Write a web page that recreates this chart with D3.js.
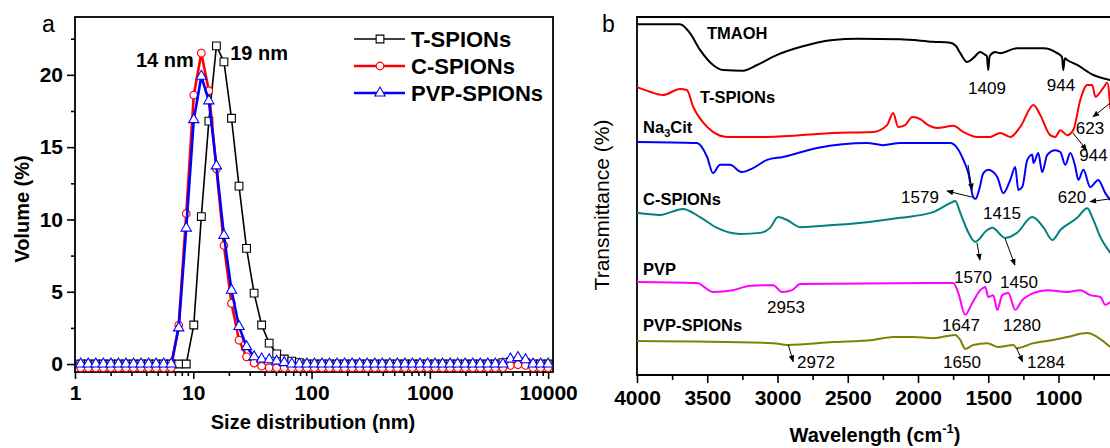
<!DOCTYPE html>
<html>
<head>
<meta charset="utf-8">
<script src="https://cdn.jsdelivr.net/npm/d3@7"></script>
<style>
  body { margin: 0; background: #fff; }
  svg { display: block; font-family: "Liberation Sans", Arial, sans-serif; }
</style>
</head>
<body>
<svg id="chart" width="1110" height="448"></svg>
<script>
// ---------- panel a : DLS size distribution ----------
// size bins (nm)
var sizes = [1.117, 1.294, 1.499, 1.736, 2.01, 2.328, 2.696, 3.122, 3.615, 4.187,
  4.849, 5.615, 6.503, 7.531, 8.721, 10.1, 11.7, 13.54, 15.69, 18.17,
  21.04, 24.36, 28.21, 32.67, 37.84, 43.82, 50.75, 58.77, 68.06, 78.82,
  91.28, 105.7, 122.4, 141.8, 164.2, 190.1, 220.2, 255.0, 295.3, 342.0,
  396.1, 458.7, 531.2, 615.1, 712.4, 825.0, 955.4, 1106, 1281, 1484,
  1718, 1990, 2305, 2669, 3091, 3580, 4145, 4801, 5560, 6439,
  7456, 8635, 10000];

// volume (%)
var tSpions = [0, 0, 0, 0, 0, 0, 0, 0, 0, 0,
  0, 0, 0, 0, 0, 2.7, 10.2, 16.8, 22.0, 20.9,
  17.0, 12.3, 8.0, 4.9, 2.7, 1.45, 0.7, 0.35, 0.2, 0.1,
  0, 0, 0, 0, 0, 0, 0, 0, 0, 0,
  0, 0, 0, 0, 0, 0, 0, 0, 0, 0,
  0, 0, 0, 0, 0, 0, 0.1, 0.15, 0.15, 0.1,
  0, 0, 0];
var cSpions = [-0.25, -0.25, -0.25, -0.25, -0.25, -0.25, -0.25, -0.25, -0.25, -0.25,
  -0.25, -0.25, -0.25, 2.7, 10.4, 18.6, 21.5, 18.9, 13.5, 8.2,
  4.2, 1.65, 0.5, 0.07, -0.15, -0.25, -0.25, -0.25, -0.25, -0.25,
  -0.25, -0.25, -0.25, -0.25, -0.25, -0.25, -0.25, -0.25, -0.25, -0.25,
  -0.25, -0.25, -0.25, -0.25, -0.25, -0.25, -0.25, -0.25, -0.25, -0.25,
  -0.25, -0.25, -0.25, -0.25, -0.25, -0.25, -0.25, -0.1, -0.05, -0.1,
  -0.25, -0.25, -0.25];
var pvpSpions = [0, 0, 0, 0, 0, 0, 0, 0, 0, 0,
  0, 0, 0, 2.5, 9.4, 16.9, 19.9, 18.2, 13.7, 8.9,
  5.1, 2.6, 1.2, 0.5, 0.35, 0.3, 0.2, 0.1, 0, 0,
  0, 0, 0, 0, 0, 0, 0, 0, 0, 0,
  0, 0, 0, 0, 0, 0, 0, 0, 0, 0,
  0, 0, 0, 0, 0, 0, 0, 0.35, 0.45, 0.3,
  0, 0, 0];

var sizeTicks = [1, 10, 100, 1000, 10000];
var volumeTicks = [0, 5, 10, 15, 20];

// ---------- panel b : FTIR spectra (wavenumber, transmittance a.u.) ----------
var tmaohIR = [[4000,98.0],[3694,98.0],[3623,95.5],[3551,90.8],[3459,86.6],[3387,85.2],[3245,85.0],
  [3145,86.6],[3003,89.4],[2839,91.6],[2604,93.6],[2433,93.9],[2127,93.8],[1892,93.1],[1771,92.8],
  [1730,91.9],[1699,89.9],[1650,87.4],[1607,88.5],[1557,90.2],[1521,89.4],[1510,89.1],[1500,85.2],
  [1490,89.1],[1450,90.2],[1415,89.9],[1296,91.3],[1108,91.3],[1009,89.9],[975,88.8],[966,85.2],
  [955,88.5],[938,88.0],[867,86.6],[752,83.8],[631,82.4]];
var tSpionsIR = [[4000,80.4],[3907,79.1],[3815,78.2],[3694,79.9],[3645,79.6],[3600,74.9],[3527,70.4],
  [3459,67.9],[3359,66.5],[3074,66.5],[2604,67.6],[2319,67.9],[2220,69.8],[2177,73.2],[2141,69.3],
  [2091,69.8],[2041,72.1],[1984,71.5],[1927,69.8],[1865,69.0],[1749,69.6],[1677,67.9],[1579,66.5],
  [1485,66.5],[1415,67.6],[1343,66.5],[1272,69.3],[1178,75.4],[1130,72.6],[1059,67.0],[1023,66.5],
  [987,68.4],[938,67.0],[895,68.4],[845,76.8],[795,81.0],[760,81.0],[738,77.7],[681,80.2],
  [653,81.6],[631,74.3]];
var na3citIR = [[4000,65.1],[3573,64.8],[3501,60.9],[3459,56.4],[3409,58.7],[3338,58.7],[3255,56.7],
  [3174,57.8],[3074,60.1],[2960,60.9],[2718,63.4],[2362,64.8],[2248,64.2],[2127,64.8],[1771,64.8],
  [1721,63.4],[1677,60.1],[1642,56.4],[1607,49.7],[1590,49.2],[1565,51.7],[1535,56.4],[1500,57.3],
  [1436,55.3],[1393,50.8],[1343,54.5],[1308,58.1],[1286,51.7],[1258,52.5],[1222,60.1],[1187,61.5],
  [1178,59.2],[1144,62.0],[1116,56.7],[1080,61.5],[1023,62.8],[987,62.3],[952,58.7],[916,62.0],
  [880,58.1],[859,54.5],[823,57.3],[774,52.5],[717,54.5],[667,50.8],[631,48.9]];
var cSpionsIR = [[4000,45.3],[3836,44.7],[3672,46.4],[3551,44.1],[3430,41.1],[3266,39.4],[3124,39.7],
  [3053,41.1],[2996,44.1],[2932,43.3],[2839,41.3],[2604,41.9],[2362,42.7],[2127,43.9],[1892,45.5],
  [1771,48.0],[1735,48.6],[1699,45.3],[1650,40.5],[1593,37.2],[1507,40.5],[1472,41.1],[1379,38.3],
  [1296,39.7],[1187,44.1],[1108,41.3],[1044,37.7],[987,40.5],[867,43.9],[795,46.6],[760,44.1],
  [702,38.5],[631,34.1]];
var pvpIR = [[4000,26.0],[3573,25.7],[3459,23.2],[3316,23.7],[3195,24.9],[3031,25.1],[2968,23.2],
  [2896,23.7],[2839,25.4],[1749,25.7],[1713,22.9],[1664,16.8],[1614,20.1],[1557,23.7],[1521,24.6],
  [1500,21.8],[1464,22.3],[1436,18.2],[1400,22.3],[1357,22.9],[1308,18.2],[1258,20.9],[1178,22.9],
  [1080,23.7],[938,23.2],[845,23.7],[774,22.3],[702,21.8],[667,19.6],[631,20.4]];
var pvpSpionsIR = [[4000,9.5],[3031,8.9],[2932,8.4],[2604,9.2],[2319,9.8],[2177,10.6],[2034,10.6],
  [1892,10.3],[1735,11.2],[1699,9.8],[1664,7.3],[1607,8.4],[1507,8.9],[1429,7.8],[1322,8.4],
  [1296,7.5],[1178,8.9],[1037,9.8],[938,10.6],[795,11.7],[724,10.6],[631,7.8]];

var waveTicks = [4000, 3500, 3000, 2500, 2000, 1500, 1000];
var waveMinor = [3750, 3250, 2750, 2250, 1750, 1250, 750];

// sample names: [text, wavenumber, value]
var sampleNames = [["TMAOH", 3502, 93.9], ["T-SPIONs", 3552, 76.0], ["Na3Cit", 3957, 67.6],
  ["C-SPIONs", 3957, 47.5], ["PVP", 3957, 27.9], ["PVP-SPIONs", 3957, 12.3]];
// peak labels: [text, wavenumber, value, anchor]
var peakLabels = [["1409", 1509, 78.5, "middle"], ["944", 982, 79.3, "middle"], ["623", 776, 67.3, "middle"],
  ["944", 650, 59.8, "end"], ["1579", 1986, 48.0, "middle"], ["620", 904, 48.0, "middle"],
  ["1415", 1402, 43.6, "middle"], ["1570", 1609, 25.7, "middle"], ["1450", 1281, 24.3, "middle"],
  ["2953", 2940, 17.3, "middle"], ["1647", 1694, 12.4, "middle"], ["1280", 1260, 12.4, "middle"],
  ["2972", 2726, 2.0, "middle"], ["1650", 1687, 2.0, "middle"], ["1284", 1089, 2.0, "middle"]];
// arrows: [w1, v1, w2, v2] head at second point
var arrows = [[631, 76.0, 755, 72.1], [897, 67.6, 800, 62.8], [1644, 58.7, 1616, 51.7],
  [1616, 49.7, 1794, 51.4], [634, 49.2, 776, 48.4], [1580, 36.9, 1559, 32.1],
  [1381, 38.2, 1310, 30.7], [2923, 8.4, 2888, 3.7], [1298, 7.5, 1255, 3.7]];

var svg = d3.select("#chart");

svg.append("defs").append("marker")
  .attr("id", "head")
  .attr("viewBox", "0 0 10 10")
  .attr("refX", 9).attr("refY", 5)
  .attr("markerWidth", 7).attr("markerHeight", 7)
  .attr("orient", "auto")
  .append("path")
  .attr("d", "M0,1 L10,5 L0,9 Z")
  .attr("fill", "#000");

svg.select("defs").append("clipPath").attr("id", "clipA")
  .append("rect").attr("x", 75).attr("y", 17).attr("width", 478).attr("height", 355);

// ================= panel a =================
var xA = d3.scaleLog().domain([1, 11000]).range([75, 553]);
var yA = d3.scaleLinear().domain([-0.55, 24]).range([372, 17]);

var minorA = [];
[1, 10, 100, 1000].forEach(function (dec) {
  for (var k = 2; k <= 9; k++) minorA.push(dec * k);
});

svg.append("g").attr("transform", "translate(0,372)")
  .call(d3.axisBottom(xA).tickValues(sizeTicks).tickFormat(d3.format("d"))
    .tickSize(7).tickPadding(6));
svg.append("g").attr("transform", "translate(0,372)")
  .call(d3.axisBottom(xA).tickValues(minorA).tickFormat("").tickSize(4));

svg.append("g").attr("transform", "translate(75,0)")
  .call(d3.axisLeft(yA).tickValues(volumeTicks).tickSize(8).tickPadding(4));
svg.append("g").attr("transform", "translate(75,0)")
  .call(d3.axisLeft(yA).tickValues([2.5, 7.5, 12.5, 17.5, 22.5]).tickFormat("").tickSize(4));

svg.append("rect")
  .attr("x", 75).attr("y", 17).attr("width", 478).attr("height", 355)
  .attr("fill", "none").attr("stroke", "#000").attr("stroke-width", 1.8);

var seriesA = [
  { name: "T-SPIONs", values: tSpions, color: "#000000", sym: d3.symbolSquare, size: 60, lw: 1.6 },
  { name: "C-SPIONs", values: cSpions, color: "#ff0000", sym: d3.symbolCircle, size: 46, lw: 2.6 },
  { name: "PVP-SPIONs", values: pvpSpions, color: "#0000ff", sym: d3.symbolTriangle, size: 46, lw: 2.6 }
];

var plotA = svg.append("g").attr("clip-path", "url(#clipA)");
var lineA = d3.line()
  .x(function (d, i) { return xA(sizes[i]); })
  .y(function (d) { return yA(d); });

seriesA.forEach(function (s) {
  plotA.append("path")
    .datum(s.values)
    .attr("d", lineA)
    .attr("fill", "none")
    .attr("stroke", s.color)
    .attr("stroke-width", s.lw);
  plotA.selectAll(null)
    .data(s.values)
    .enter()
    .append("path")
    .attr("d", d3.symbol().type(s.sym).size(s.size))
    .attr("transform", function (d, i) { return "translate(" + xA(sizes[i]) + "," + yA(d) + ")"; })
    .attr("fill", "#fff")
    .attr("stroke", s.color)
    .attr("stroke-width", 1.1);
});

// legend
var legendRows = [39, 66, 93];
seriesA.forEach(function (s, i) {
  var ly = legendRows[i];
  svg.append("line").attr("x1", 354).attr("x2", 405).attr("y1", ly).attr("y2", ly)
    .attr("stroke", s.color).attr("stroke-width", s.lw);
  svg.append("path")
    .attr("d", d3.symbol().type(s.sym).size(s.size))
    .attr("transform", "translate(380," + ly + ")")
    .attr("fill", "#fff").attr("stroke", s.color).attr("stroke-width", 1.1);
  svg.append("text").attr("x", 411).attr("y", ly + 8)
    .attr("font-size", 22).attr("font-weight", "bold").text(s.name);
});

// peak annotations
svg.append("text").attr("x", xA(3.28)).attr("y", yA(20.55))
  .attr("font-size", 20).attr("font-weight", "bold").text("14 nm");
svg.append("text").attr("x", xA(20.5)).attr("y", yA(21.04))
  .attr("font-size", 20).attr("font-weight", "bold").text("19 nm");

// titles
svg.append("text").attr("x", 313).attr("y", 429).attr("text-anchor", "middle")
  .attr("font-size", 20).attr("font-weight", "bold").text("Size distribution (nm)");
svg.append("text").attr("transform", "translate(29,209) rotate(-90)").attr("text-anchor", "middle")
  .attr("font-size", 20).attr("font-weight", "bold").text("Volume (%)");
svg.append("text").attr("x", 42).attr("y", 32).attr("font-size", 23).text("a");

// ================= panel b =================
var xB = d3.scaleLinear().domain([4000, 400]).range([637, 637 + 3600 * 0.1405]);
var yB = d3.scaleLinear().domain([0, 100]).range([375, 17]);

svg.append("g").attr("transform", "translate(0,375)")
  .call(d3.axisBottom(xB).tickValues(waveTicks).tickFormat(d3.format("d"))
    .tickSize(8).tickPadding(7));
svg.append("g").attr("transform", "translate(0,375)")
  .call(d3.axisBottom(xB).tickValues(waveMinor).tickFormat("").tickSize(5));

// common axis styling
svg.selectAll(".domain").remove();
svg.selectAll(".tick line").attr("stroke", "#000").attr("stroke-width", 1.6);
svg.selectAll(".tick text").attr("font-size", 21).attr("font-weight", "bold")
  .attr("font-family", "Liberation Sans, Arial, sans-serif").attr("fill", "#000");

svg.append("path")
  .attr("d", "M1112,17 H637 V375 H1112")
  .attr("fill", "none").attr("stroke", "#000").attr("stroke-width", 1.8);

var spectra = [
  { data: tmaohIR, color: "#000000" },
  { data: tSpionsIR, color: "#ff0000" },
  { data: na3citIR, color: "#0000ff" },
  { data: cSpionsIR, color: "#008080" },
  { data: pvpIR, color: "#ff00ff" },
  { data: pvpSpionsIR, color: "#808000" }
];

var lineB = d3.line()
  .x(function (d) { return xB(d[0]); })
  .y(function (d) { return yB(d[1]); })
  .curve(d3.curveMonotoneX);

spectra.forEach(function (s) {
  svg.append("path")
    .datum(s.data)
    .attr("d", lineB)
    .attr("fill", "none")
    .attr("stroke", s.color)
    .attr("stroke-width", 2)
    .attr("stroke-linejoin", "round");
});

// arrows
svg.selectAll(null)
  .data(arrows)
  .enter()
  .append("line")
  .attr("x1", function (d) { return xB(d[0]); })
  .attr("y1", function (d) { return yB(d[1]); })
  .attr("x2", function (d) { return xB(d[2]); })
  .attr("y2", function (d) { return yB(d[3]); })
  .attr("stroke", "#000")
  .attr("stroke-width", 1)
  .attr("marker-end", "url(#head)");

// peak numbers
svg.selectAll(null)
  .data(peakLabels)
  .enter()
  .append("text")
  .attr("x", function (d) { return xB(d[1]); })
  .attr("y", function (d) { return yB(d[2]); })
  .attr("text-anchor", function (d) { return d[3]; })
  .attr("font-size", 17)
  .text(function (d) { return d[0]; });

// sample names
sampleNames.forEach(function (d) {
  var t = svg.append("text")
    .attr("x", xB(d[1])).attr("y", yB(d[2]))
    .attr("font-size", 16.5).attr("font-weight", "bold");
  if (d[0] === "Na3Cit") {
    t.append("tspan").text("Na");
    t.append("tspan").attr("font-size", 11).attr("dy", 4).text("3");
    t.append("tspan").attr("dy", -4).text("Cit");
  } else {
    t.text(d[0]);
  }
});

// titles
var wl = svg.append("text").attr("x", 875).attr("y", 442).attr("text-anchor", "middle")
  .attr("font-size", 20).attr("font-weight", "bold");
wl.append("tspan").text("Wavelength (cm");
wl.append("tspan").attr("font-size", 13).attr("dy", -9).text("-1");
wl.append("tspan").attr("dy", 9).text(")");

svg.append("text").attr("transform", "translate(609,205) rotate(-90)").attr("text-anchor", "middle")
  .attr("font-size", 21).text("Transmittance (%)");
svg.append("text").attr("x", 602).attr("y", 32).attr("font-size", 23).text("b");
</script>
</body>
</html>
